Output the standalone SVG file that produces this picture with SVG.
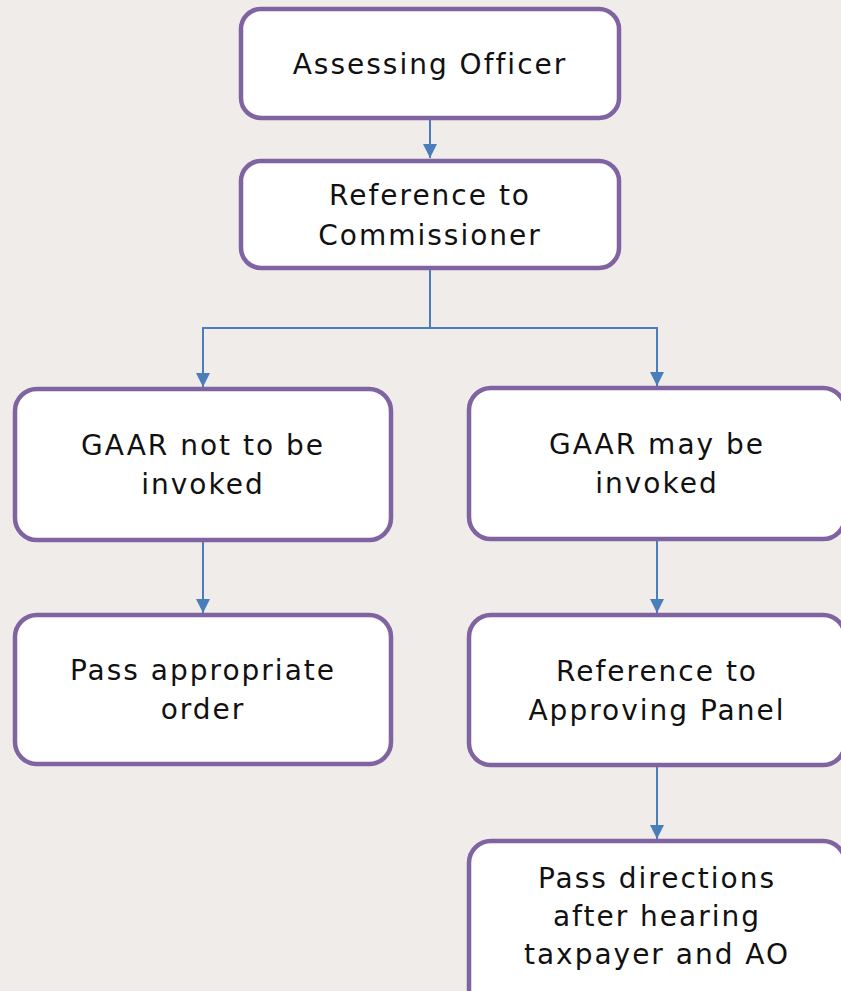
<svg xmlns="http://www.w3.org/2000/svg" width="841" height="991" viewBox="0 0 841 991">
  <defs>
    <marker id="arrow" markerUnits="userSpaceOnUse" markerWidth="16" markerHeight="16" viewBox="0 0 16 16" refX="15" refY="8" orient="auto">
      <path d="M1,1 L15,8 L1,15 Z" fill="#4A7EBB"/>
    </marker>
    <style>
      .box { fill: #FFFFFF; stroke: #8064A2; stroke-width: 4.5; }
      .lbl { font-family: "DejaVu Sans", "Noto Sans", sans-serif; font-size: 28px; fill: #111111; text-anchor: middle; letter-spacing: 2px; }
      .link { fill: none; stroke: #4A7EBB; stroke-width: 2; marker-end: url(#arrow); }
    </style>
  </defs>

  <rect width="841" height="991" fill="#F0ECE9"/>

  <!-- connectors -->
  <g id="connectors">
    <path class="link" d="M430,120 V158"/>
    <path class="link" d="M430,270 V328 H203 V387"/>
    <path class="link" d="M430,328 H657 V386"/>
    <path class="link" d="M203,542 V613"/>
    <path class="link" d="M657,541 V613"/>
    <path class="link" d="M657,766 V839"/>
  </g>

  <g id="assessing-officer">
    <rect class="box" x="241" y="9" width="378" height="109" rx="20"/>
    <text class="lbl" x="430" y="74">Assessing Officer</text>
  </g>

  <g id="reference-commissioner">
    <rect class="box" x="241" y="161" width="378" height="107" rx="20"/>
    <text class="lbl" x="430" y="205">Reference to</text>
    <text class="lbl" x="430" y="245">Commissioner</text>
  </g>

  <g id="gaar-not-invoked">
    <rect class="box" x="15" y="389" width="376" height="151" rx="22"/>
    <text class="lbl" x="203" y="455">GAAR not to be</text>
    <text class="lbl" x="203" y="494">invoked</text>
  </g>

  <g id="gaar-may-be-invoked">
    <rect class="box" x="469" y="388" width="376" height="151" rx="22"/>
    <text class="lbl" x="657" y="454">GAAR may be</text>
    <text class="lbl" x="657" y="493">invoked</text>
  </g>

  <g id="pass-order">
    <rect class="box" x="15" y="615" width="376" height="149" rx="22"/>
    <text class="lbl" x="203" y="680">Pass appropriate</text>
    <text class="lbl" x="203" y="719">order</text>
  </g>

  <g id="reference-panel">
    <rect class="box" x="469" y="615" width="376" height="150" rx="22"/>
    <text class="lbl" x="657" y="681">Reference to</text>
    <text class="lbl" x="657" y="720">Approving Panel</text>
  </g>

  <g id="pass-directions">
    <rect class="box" x="469" y="841" width="376" height="170" rx="22"/>
    <text class="lbl" x="657" y="888">Pass directions</text>
    <text class="lbl" x="657" y="926">after hearing</text>
    <text class="lbl" x="657" y="964">taxpayer and AO</text>
  </g>
</svg>
